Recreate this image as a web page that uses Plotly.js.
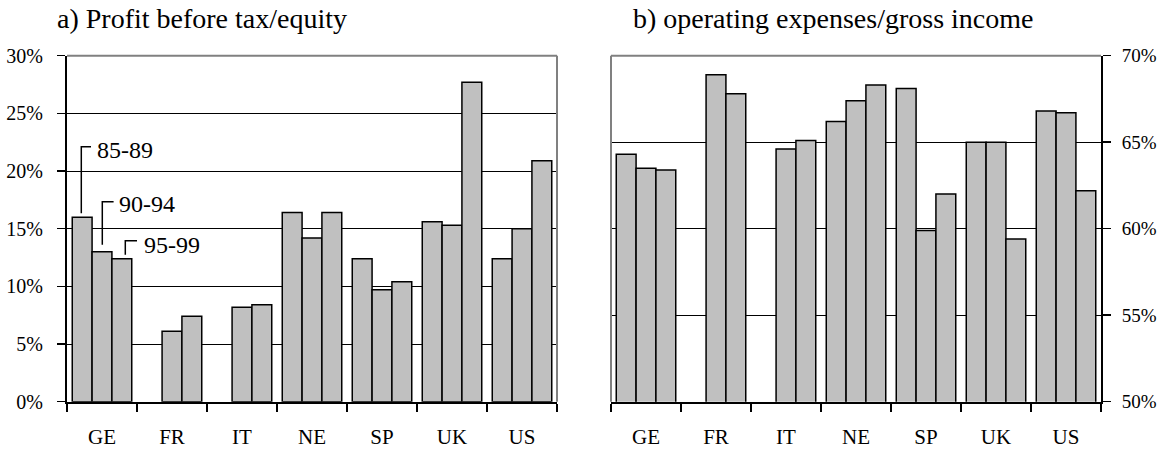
<!DOCTYPE html>
<html><head><meta charset="utf-8">
<script src="https://cdn.plot.ly/plotly-3.0.1.min.js"></script>
<style>html,body{margin:0;padding:0;background:#fff}#chart{width:1158px;height:450px}</style>
</head><body><div id="chart"></div>
<script>
// ---- data ----
const countries = ['GE', 'FR', 'IT', 'NE', 'SP', 'UK', 'US'];
const periods = ['85-89', '90-94', '95-99'];
const profit8589 = [16.0, null, null, 16.4, 12.4, 15.6, 12.4];
const profit9094 = [13.0, 6.1, 8.2, 14.2, 9.7, 15.3, 15.0];
const profit9599 = [12.4, 7.4, 8.4, 16.4, 10.4, 27.7, 20.9];
const opex8589 = [64.3, null, null, 66.2, 68.1, 65.0, 66.8];
const opex9094 = [63.5, 68.9, 64.6, 67.4, 59.9, 65.0, 66.7];
const opex9599 = [63.4, 67.8, 65.1, 68.3, 62.0, 59.4, 62.2];
const profitTicks = [0, 5, 10, 15, 20, 25, 30];
const opexTicks = [50, 55, 60, 65, 70];
const titleA = 'a) Profit before tax/equity';
const titleB = 'b) operating expenses/gross income';

// ---- styles ----
const SERIF = 'Liberation Serif';
const W = 1158, H = 450;
const BAR = '#c0c0c0';
const profitSeries = [profit8589, profit9094, profit9599];
const opexSeries = [opex8589, opex9094, opex9599];

const traces = [];
profitSeries.forEach((vals, i) => traces.push({
  type: 'bar', name: periods[i], x: countries, y: vals, xaxis: 'x', yaxis: 'y',
  marker: {color: BAR, line: {color: '#000', width: 1.5}}
}));
opexSeries.forEach((vals, i) => traces.push({
  type: 'bar', name: periods[i], x: countries, y: vals, xaxis: 'x2', yaxis: 'y2',
  marker: {color: BAR, line: {color: '#000', width: 1.5}}
}));

const yDom = [48.3 / H, 394.3 / H];
const xAxisBase = {
  type: 'category', tickson: 'boundaries', ticks: 'outside', ticklen: 8, tickwidth: 1.5,
  tickcolor: '#000', showline: true, linecolor: '#000', linewidth: 2, showgrid: false,
  zeroline: false, automargin: false, ticklabelstandoff: 15,
  tickfont: {family: SERIF, size: 21, color: '#000'}
};
const yAxisBase = {
  ticks: 'outside', ticklen: 8, tickwidth: 1.5, tickcolor: '#000', showline: true,
  linecolor: '#000', linewidth: 2, showgrid: true, gridcolor: '#000', gridwidth: 1,
  zeroline: false, automargin: false, ticklabelstandoff: 10,
  tickfont: {family: SERIF, size: 20, color: '#000'}, domain: yDom
};

// leader lines (pixel offsets relative to category centre and bar top)
const leaders = [
  {lx: -20.7, s: 4, h: 70.5, hx: -11, tx: -7, ty: 67},
  {lx: 0.3, s: 7, h: 50, hx: 11.6, tx: 14.5, ty: 48},
  {lx: 23.3, s: 4, h: 18, hx: 35, tx: 39.5, ty: 14}
];
const shapes = [
  {type: 'line', xref: 'x domain', yref: 'y domain', x0: 0, x1: 1, y0: 1, y1: 1, line: {color: '#808080', width: 2}, layer: 'above'},
  {type: 'line', xref: 'x domain', yref: 'y domain', x0: 1, x1: 1, y0: 0, y1: 1, line: {color: '#808080', width: 2}, layer: 'above'},
  {type: 'line', xref: 'x2 domain', yref: 'y2 domain', x0: 0, x1: 1, y0: 1, y1: 1, line: {color: '#808080', width: 2}, layer: 'above'},
  {type: 'line', xref: 'x2 domain', yref: 'y2 domain', x0: 0, x1: 0, y0: 0, y1: 1, line: {color: '#808080', width: 2}, layer: 'above'}
];
const annotations = [
  {text: titleA, xref: 'paper', yref: 'paper', x: 55 / W, y: 1 - 18 / H, xanchor: 'left', yanchor: 'middle', showarrow: false, font: {family: SERIF, size: 28, color: '#000'}},
  {text: titleB, xref: 'paper', yref: 'paper', x: 631 / W, y: 1 - 18 / H, xanchor: 'left', yanchor: 'middle', showarrow: false, font: {family: SERIF, size: 28, color: '#000'}}
];
leaders.forEach((L, i) => {
  const v = profitSeries[i][0];
  shapes.push({
    type: 'path', xref: 'x', yref: 'y', xsizemode: 'pixel', ysizemode: 'pixel',
    xanchor: countries[0], yanchor: v,
    path: `M ${L.lx},${L.s} L ${L.lx},${L.h} L ${L.hx},${L.h}`,
    line: {color: '#000', width: 1.5}, layer: 'above'
  });
  annotations.push({
    text: periods[i], xref: 'x', yref: 'y', x: countries[0], y: v, xshift: L.tx, yshift: L.ty,
    xanchor: 'left', yanchor: 'middle', showarrow: false, font: {family: SERIF, size: 24, color: '#000'}
  });
});

const layout = {
  width: W, height: H, margin: {l: 0, r: 0, t: 0, b: 0, pad: 0},
  paper_bgcolor: '#fff', plot_bgcolor: '#fff', showlegend: false,
  barmode: 'group', bargap: 0.15, bargroupgap: 0,
  font: {family: SERIF, size: 21, color: '#000'},
  xaxis: Object.assign({}, xAxisBase, {domain: [67 / W, 557 / W], anchor: 'y'}),
  yaxis: Object.assign({}, yAxisBase, {range: [0, 30], tickvals: profitTicks, ticktext: profitTicks.map(v => v + '%'), anchor: 'x'}),
  xaxis2: Object.assign({}, xAxisBase, {domain: [611 / W, 1101 / W], anchor: 'y2'}),
  yaxis2: Object.assign({}, yAxisBase, {range: [50, 70], tickvals: opexTicks, ticktext: opexTicks.map(v => v + '%'), anchor: 'x2', side: 'right', ticklabelstandoff: 7, tickfont: {family: SERIF, size: 19, color: '#000'}}),
  shapes: shapes, annotations: annotations
};
Plotly.newPlot('chart', traces, layout, {staticPlot: true, displayModeBar: false});
</script>
</body></html>
